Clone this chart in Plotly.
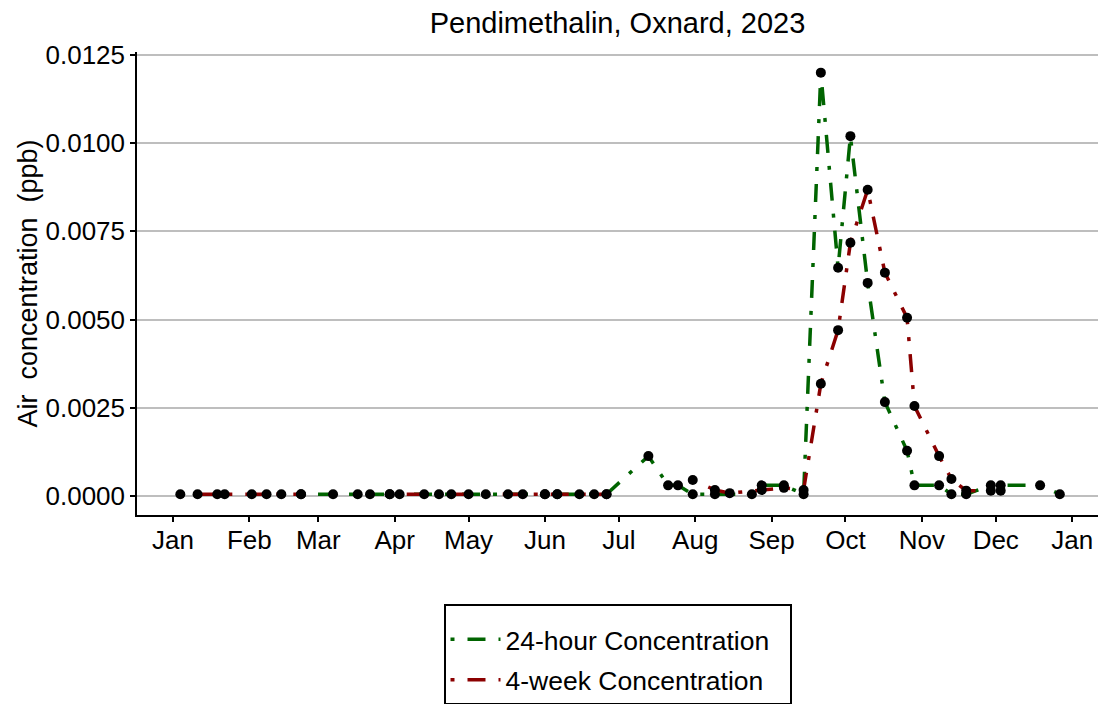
import plotly.graph_objects as go

# 24-hour samples (green)
dates_24h = [
    "2023-02-22", "2023-03-07", "2023-03-17", "2023-03-22", "2023-03-30",
    "2023-04-19", "2023-05-08", "2023-06-01", "2023-06-06", "2023-06-15",
    "2023-06-21", "2023-06-26", "2023-07-13", "2023-07-21", "2023-07-25",
    "2023-07-31", "2023-08-09", "2023-08-24", "2023-08-28", "2023-09-06",
    "2023-09-14", "2023-09-21", "2023-09-28", "2023-10-03", "2023-10-10",
    "2023-10-17", "2023-10-26", "2023-10-29", "2023-11-08", "2023-11-13",
    "2023-11-19", "2023-11-29", "2023-12-03", "2023-12-19", "2023-12-27",
]
conc_24h = [
    0.00005, 0.00005, 0.00005, 0.00005, 0.00005,
    0.00005, 0.00005, 0.00005, 0.00005, 0.00005,
    0.00005, 0.00005, 0.00113, 0.00030, 0.00030,
    0.00005, 0.00005, 0.00005, 0.00030, 0.00030,
    0.00005, 0.01200, 0.00647, 0.01020, 0.00604,
    0.00266, 0.00128, 0.00030, 0.00030, 0.00005,
    0.00005, 0.00030, 0.00030, 0.00030, 0.00005,
]

# 4-week samples (red); None marks a break in the line
dates_4wk = [
    "2023-01-04", "2023-01-11", "2023-01-19", "2023-01-22", "2023-02-02",
    "2023-02-08", "2023-02-14", "2023-02-22", "2023-03-10", "2023-03-30",
    "2023-04-03", "2023-04-13", "2023-04-24", "2023-05-01", "2023-05-17",
    "2023-05-23", "2023-06-01", "2023-06-06", "2023-06-26", "2023-07-10",
    "2023-07-31", "2023-08-09", "2023-08-15", "2023-08-28", "2023-09-06",
    "2023-09-14", "2023-09-21", "2023-09-28", "2023-10-03", "2023-10-10",
    "2023-10-17", "2023-10-26", "2023-10-29", "2023-11-08", "2023-11-13",
    "2023-11-19", "2023-11-29", "2023-12-03",
]
conc_4wk = [
    0.00005, 0.00005, 0.00005, 0.00005, 0.00005,
    0.00005, 0.00005, 0.00005, None, 0.00005,
    0.00005, 0.00005, 0.00005, 0.00005, 0.00005,
    0.00005, 0.00005, 0.00005, 0.00005, None,
    0.00045, 0.00017, 0.00008, 0.00017, 0.00023,
    0.00017, 0.00318, 0.00470, 0.00718, 0.00868,
    0.00633, 0.00505, 0.00255, 0.00113, 0.00048,
    0.00015, 0.00015, 0.00015,
]

month_ticks = ["2023-%02d-01" % m for m in range(1, 13)] + ["2024-01-01"]
month_labels = ["Jan", "Feb", "Mar", "Apr", "May", "Jun", "Jul",
                "Aug", "Sep", "Oct", "Nov", "Dec", "Jan"]
y_ticks = [0.0, 0.0025, 0.005, 0.0075, 0.01, 0.0125]

GREEN = "#006400"
RED = "#8B0000"
DOTDASH = "4px,13px,18px,13px"
PAD = "\u00a0\u00a0"

fig = go.Figure()

fig.add_trace(go.Scatter(
    x=dates_24h, y=conc_24h, mode="lines", name="24-hour Concentration" + PAD,
    line=dict(color=GREEN, width=3.5, dash=DOTDASH), connectgaps=False,
    legendgroup="a",
))
fig.add_trace(go.Scatter(
    x=dates_4wk, y=conc_4wk, mode="lines", name="4-week Concentration" + PAD,
    line=dict(color=RED, width=3.5, dash=DOTDASH), connectgaps=False,
    legendgroup="b",
))
for xs, ys in ((dates_24h, conc_24h), (dates_4wk, conc_4wk)):
    fig.add_trace(go.Scatter(
        x=xs, y=ys, mode="markers", showlegend=False, hoverinfo="skip",
        marker=dict(color="black", size=10, line=dict(width=0)),
    ))

fig.update_layout(
    width=1100, height=704,
    margin=dict(l=137, r=2, t=52, b=189, autoexpand=False),
    paper_bgcolor="white", plot_bgcolor="white",
    font=dict(family="Liberation Sans, Arial, sans-serif", color="black", size=26),
    title=dict(text="Pendimethalin, Oxnard, 2023", x=0.5, xref="paper",
               xanchor="center", y=0.968, yanchor="middle",
               font=dict(size=29, color="black")),
    showlegend=True,
    legend=dict(
        orientation="v", x=0.5, xanchor="center", xref="paper",
        y=-0.193, yanchor="top", bordercolor="black", borderwidth=2,
        bgcolor="white", font=dict(size=26.5, color="black"),
        tracegroupgap=3, itemwidth=50,
        title=dict(text="\u00a0", font=dict(size=7)),
    ),
)

fig.update_xaxes(
    type="date", range=["2022-12-17 10:00", "2024-01-11 12:00"],
    tickvals=month_ticks, ticktext=month_labels,
    ticks="outside", ticklen=5, tickwidth=1.5, tickcolor="black",
    ticklabelstandoff=-4,
    showline=True, linecolor="black", linewidth=1.5,
    showgrid=False, zeroline=False, tickfont=dict(size=26, color="black"),
)
fig.update_yaxes(
    range=[-0.00054, 0.012585], tickvals=y_ticks, tickformat=".4f",
    ticks="outside", ticklen=5, tickwidth=1.5, tickcolor="black",
    showline=True, linecolor="black", linewidth=1.5,
    showgrid=True, gridcolor="#BEBEBE", gridwidth=2, zeroline=False,
    tickfont=dict(size=26, color="black"),
    title=dict(text="Air\u00a0 concentration\u00a0 (ppb)", font=dict(size=27, color="black"),
               standoff=0),
)

fig.write_html("out.html")
